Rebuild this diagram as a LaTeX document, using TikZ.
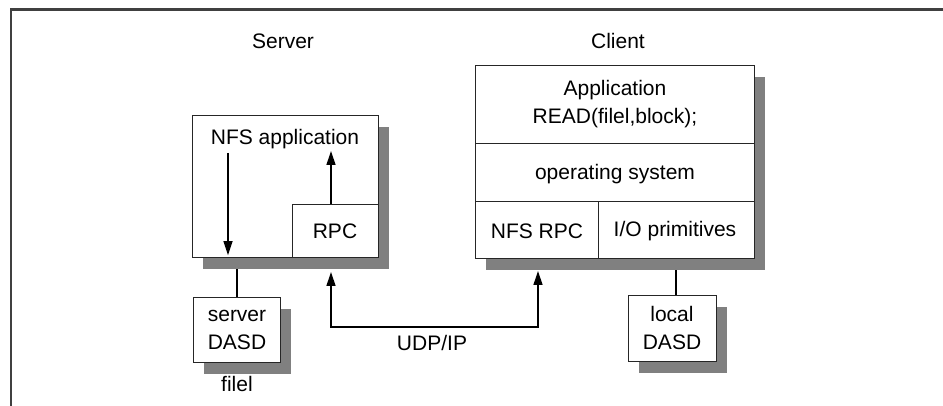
\documentclass[tikz,border=0pt]{standalone}
\usepackage{fontspec}
\setmainfont{Liberation Sans}
\usetikzlibrary{arrows.meta,shadows}
\definecolor{shgray}{HTML}{808080}
\definecolor{framegray}{HTML}{404040}
\begin{document}
\begin{tikzpicture}[x=1pt,y=-1pt,
  every node/.style={font=\fontsize{21}{24}\selectfont},
  box/.style={draw=black!85,line width=1.2pt,fill=white,rectangle,inner sep=0pt,anchor=north west},
  shadowed/.style={general shadow={fill=shgray,draw=none,shadow xshift=10pt,shadow yshift=-11pt}},
  lbl/.style={inner sep=0pt,align=center},
  arr/.style={line width=1.3pt,-{Triangle[width=9pt,length=14pt]}},
  darr/.style={line width=1.3pt,{Triangle[width=9pt,length=14pt]}-{Triangle[width=9pt,length=14pt]}},
  conn/.style={line width=1.3pt}]
\useasboundingbox (0,0) rectangle (943,406);
% frame
\draw[framegray,line width=2.6pt] (11,406) -- (11,9.5) -- (943,9.5);
% titles
\node[lbl] (tserver) at (283,41) {Server};
\node[lbl] (tclient) at (618,41) {Client};
% server
\node[box,shadowed,minimum width=186pt,minimum height=142pt] (srv) at (192,115) {};
\node[lbl] (nfsapp) at (285,139) {NFS application};
\node[box,minimum width=86pt,minimum height=53pt] (rpc) at (292,204) {};
\node[lbl] (rpct) at (335,231) {RPC};
\coordinate (dtop) at (228,153);
\draw[arr] (dtop) -- ([yshift=3pt]srv.south -| dtop);
\coordinate (utip) at (331,151);
\draw[arr] (rpc.north -| utip) -- (utip);
% server DASD
\node[box,shadowed,minimum width=87pt,minimum height=65pt,align=center] (sdasd) at (193,297) {};
\node[lbl] (sdasdt) at (237,330) {server\\[4pt]DASD};
\node[lbl] (filel) at (237,384) {filel};
\draw[conn] (sdasd.north) -- ([yshift=-11pt]srv.south -| sdasd.north);
% client
\node[box,shadowed,minimum width=279pt,minimum height=193pt] (cli) at (475,65) {};
\node[box,minimum width=279pt,minimum height=78pt] (app) at (475,65) {};
\node[lbl] (appt) at (615,104) {Application\\[4pt]READ(filel,block);};
\node[box,minimum width=279pt,minimum height=58pt] (os) at (475,143) {};
\node[lbl] (ost) at (615,174) {operating system};
\node[box,minimum width=123pt,minimum height=57pt] (nfsrpc) at (475,201) {};
\node[lbl] (nfsrpct) at (537,231) {NFS RPC};
\node[box,minimum width=156pt,minimum height=57pt] (io) at (598,201) {};
\node[lbl] (iot) at (675,231) {I/O primitives};
% local DASD
\node[box,shadowed,minimum width=88pt,minimum height=66pt] (ldasd) at (628,295) {};
\node[lbl] (ldasdt) at (672,328) {local\\[4pt]DASD};
\draw[conn] (ldasd.north -| 676,0) -- ([yshift=-11pt]cli.south -| 676,0);
% UDP/IP
\coordinate (u1) at (331,272);
\coordinate (u2) at (538,271);
\coordinate (ub) at (331,327);
\draw[darr] (u1) -- (ub) -- (ub -| u2) -- (u2);
\node[lbl] (udp) at (432,343) {UDP/IP};
\end{tikzpicture}
\end{document}
